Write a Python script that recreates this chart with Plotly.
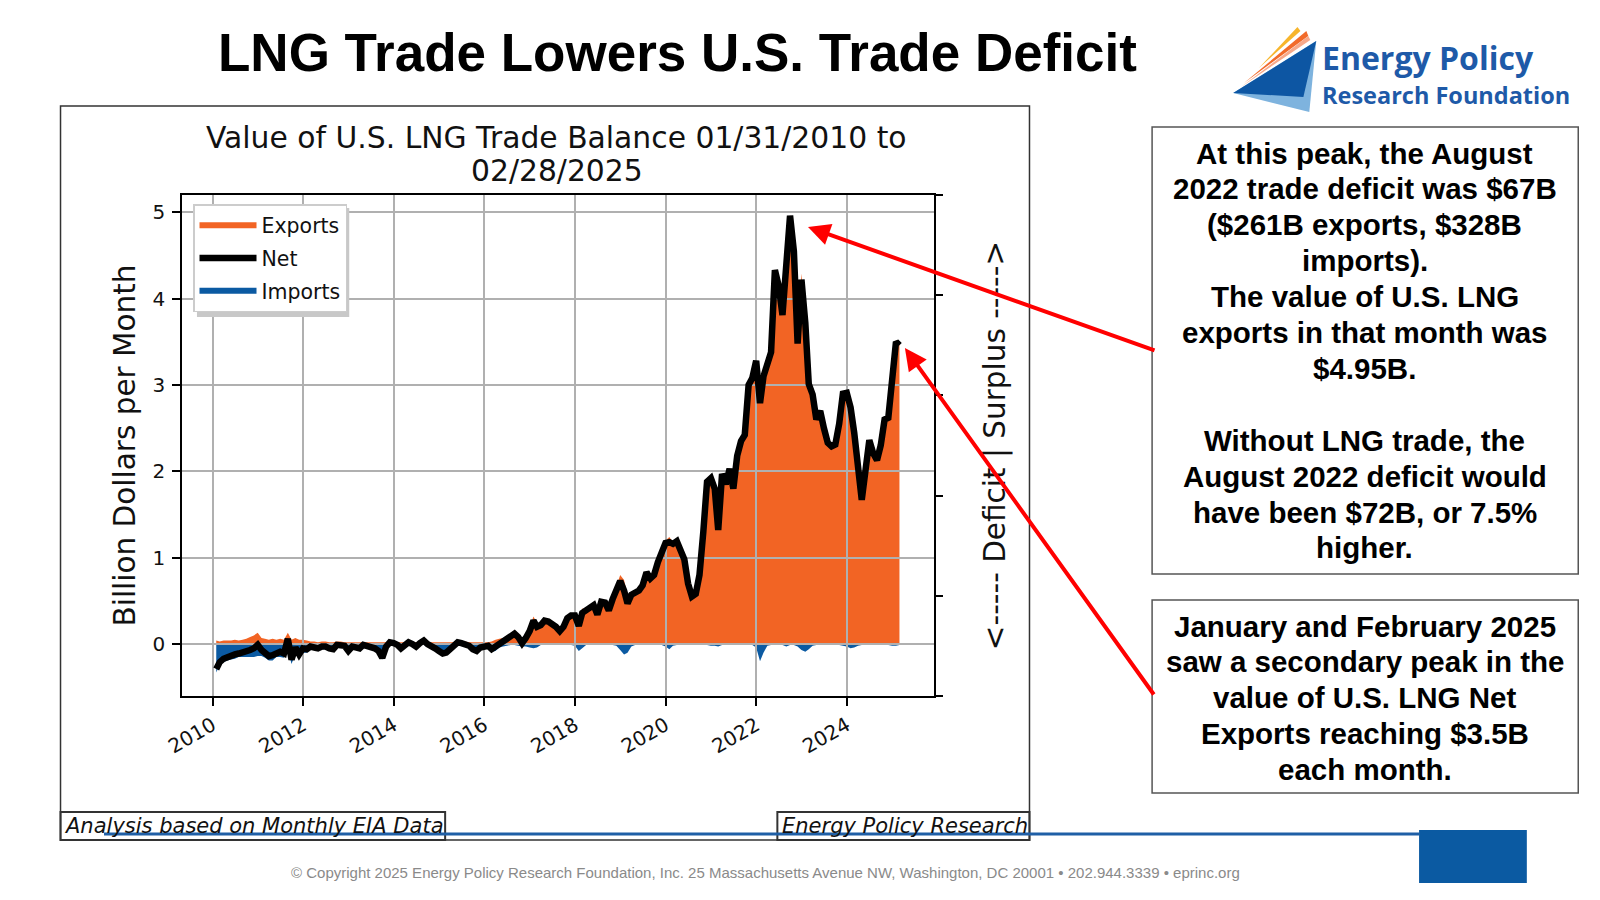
import plotly.graph_objects as go
import pandas as pd

W, H = 1600, 900

# ---------------- data (billion $ per month) ----------------
EXPORTS = [
    # 2010
    0.04, 0.03, 0.04, 0.04, 0.04, 0.05, 0.04, 0.05, 0.06, 0.08, 0.10, 0.13,
    # 2011
    0.07, 0.06, 0.05, 0.06, 0.05, 0.06, 0.05, 0.13, 0.05, 0.07, 0.05, 0.05,
    # 2012
    0.04, 0.03, 0.03, 0.02, 0.03, 0.03, 0.02, 0.02, 0.03, 0.03, 0.02, 0.02,
    # 2013
    0.02, 0.02, 0.02, 0.02, 0.02, 0.02, 0.02, 0.02, 0.02, 0.02, 0.03, 0.02,
    # 2014
    0.02, 0.02, 0.02, 0.03, 0.02, 0.02, 0.02, 0.05, 0.02, 0.02, 0.02, 0.02,
    # 2015
    0.02, 0.02, 0.02, 0.02, 0.03, 0.03, 0.03, 0.02, 0.02, 0.02, 0.02, 0.02,
    # 2016
    0.02, 0.03, 0.05, 0.06, 0.07, 0.08, 0.10, 0.13, 0.10, 0.04, 0.10, 0.19,
    # 2017
    0.32, 0.24, 0.23, 0.28, 0.27, 0.25, 0.21, 0.16, 0.21, 0.31, 0.34, 0.35,
    # 2018
    0.29, 0.41, 0.40, 0.43, 0.46, 0.35, 0.50, 0.49, 0.40, 0.53, 0.67, 0.80,
    # 2019
    0.74, 0.57, 0.60, 0.61, 0.63, 0.69, 0.84, 0.77, 0.81, 0.96, 1.09, 1.20,
    # 2020
    1.24, 1.18, 1.20, 1.09, 0.99, 0.71, 0.56, 0.59, 0.81, 1.31, 1.89, 1.94,
    # 2021
    1.82, 1.35, 1.98, 1.86, 2.04, 1.81, 2.19, 2.36, 2.43, 3.01, 3.09, 3.32,
    # 2022
    2.99, 3.20, 3.29, 3.39, 4.34, 4.16, 3.82, 4.44, 4.97, 4.56, 3.51, 4.29,
    # 2023
    3.81, 3.07, 2.91, 2.61, 2.71, 2.51, 2.34, 2.30, 2.32, 2.56, 2.92, 2.94,
    # 2024
    2.79, 2.49, 2.12, 1.68, 2.03, 2.37, 2.22, 2.14, 2.31, 2.61, 2.63, 3.16,
    # 2025
    3.52, 3.47,
]

IMPORTS = [
    # 2010
    0.33, 0.24, 0.21, 0.19, 0.18, 0.17, 0.15, 0.15, 0.15, 0.15, 0.15, 0.14,
    # 2011
    0.14, 0.16, 0.19, 0.19, 0.15, 0.15, 0.16, 0.07, 0.23, 0.11, 0.17, 0.10,
    # 2012
    0.10, 0.06, 0.07, 0.07, 0.06, 0.06, 0.07, 0.08, 0.04, 0.04, 0.04, 0.10,
    # 2013
    0.05, 0.06, 0.07, 0.03, 0.04, 0.05, 0.07, 0.10, 0.18, 0.05, 0.01, 0.01,
    # 2014
    0.03, 0.07, 0.03, 0.01, 0.02, 0.05, 0.01, 0.01, 0.02, 0.04, 0.07, 0.10,
    # 2015
    0.13, 0.12, 0.08, 0.03, 0.01, 0.02, 0.03, 0.04, 0.08, 0.10, 0.06, 0.04,
    # 2016
    0.04, 0.09, 0.08, 0.04, 0.03, 0.02, 0.01, 0.01, 0.02, 0.03, 0.03, 0.04,
    # 2017
    0.05, 0.04, 0.01, 0.01, 0.01, 0.01, 0.01, 0.01, 0.01, 0.01, 0.01, 0.02,
    # 2018
    0.08, 0.05, 0.01, 0.01, 0.01, 0.01, 0.01, 0.01, 0.01, 0.01, 0.02, 0.07,
    # 2019
    0.12, 0.10, 0.03, 0.01, 0.01, 0.01, 0.01, 0.01, 0.01, 0.01, 0.01, 0.03,
    # 2020
    0.06, 0.02, 0.01, 0.01, 0.01, 0.01, 0.01, 0.01, 0.01, 0.01, 0.01, 0.02,
    # 2021
    0.02, 0.03, 0.01, 0.01, 0.01, 0.01, 0.01, 0.01, 0.01, 0.01, 0.01, 0.04,
    # 2022
    0.20, 0.10, 0.02, 0.01, 0.01, 0.01, 0.01, 0.03, 0.01, 0.01, 0.03, 0.07,
    # 2023
    0.09, 0.06, 0.02, 0.01, 0.01, 0.01, 0.01, 0.01, 0.01, 0.01, 0.02, 0.03,
    # 2024
    0.05, 0.04, 0.02, 0.01, 0.01, 0.01, 0.01, 0.01, 0.01, 0.01, 0.01, 0.02,
    # 2025
    0.02, 0.01,
]

NET = [round(e - i, 3) for e, i in zip(EXPORTS, IMPORTS)]

FIRST_MONTH_END = "2010-01-31"
MONTH_ENDS = [(pd.Timestamp(FIRST_MONTH_END) + pd.offsets.MonthEnd(k)).strftime("%Y-%m-%d")
              for k in range(len(EXPORTS))]

TICK_YEARS = [2010, 2012, 2014, 2016, 2018, 2020, 2022, 2024]
Y_TICKS = [0, 1, 2, 3, 4, 5]
RIGHT_TICKS = [0, 0.2, 0.4, 0.6, 0.8, 1.0]

TITLE = "LNG Trade Lowers U.S. Trade Deficit"
CHART_TITLE = ["Value of U.S. LNG Trade Balance 01/31/2010 to", "02/28/2025"]
Y_LABEL = "Billion Dollars per Month"
RIGHT_LABEL = "&lt;----- Deficit | Surplus -----&gt;"
NOTE_LEFT = "Analysis based on Monthly EIA Data"
NOTE_RIGHT = "Energy Policy Research"
BOX1 = ["At this peak, the August", "2022 trade deficit was $67B", "($261B exports, $328B",
        "imports).", "The value of U.S. LNG", "exports in that month was", "$4.95B.", "",
        "Without LNG trade, the", "August 2022 deficit would", "have been $72B, or 7.5%", "higher."]
BOX2 = ["January and February 2025", "saw a secondary peak in the", "value of U.S. LNG Net",
        "Exports reaching $3.5B", "each month."]
FOOTER = ("© Copyright 2025 Energy Policy Research Foundation, Inc. 25 Massachusetts Avenue NW, "
          "Washington, DC 20001 • 202.944.3339 • eprinc.org")

ORANGE = "#F26424"
BLUE = "#0B5AA2"
MPL_FONT = "DejaVu Sans"
SLIDE_FONT = "Liberation Sans, Arial, sans-serif"


def px(x):
    return x / W


def py(y):
    return 1 - y / H


# plot area (pixels)
PL, PR, PT, PB = 166, 926, 195, 696
XDOM = [px(PL), px(PR)]
YDOM = [py(PB), py(PT)]
XR = ["2009-05-01", "2025-11-30"]
YR = [-0.602, 5.20]

fig = go.Figure()
fig.add_trace(go.Scatter(x=MONTH_ENDS, y=EXPORTS, name="Exports", mode="none", fill="tozeroy",
                         fillcolor=ORANGE, xaxis="x", yaxis="y", legendrank=1, legendgroup="e",
                         hoverinfo="skip"))
fig.add_trace(go.Scatter(x=MONTH_ENDS, y=[-v for v in IMPORTS], name="Imports", mode="none",
                         fill="tozeroy", fillcolor=BLUE, xaxis="x", yaxis="y", legendrank=3,
                         legendgroup="i", hoverinfo="skip"))
fig.add_trace(go.Scatter(x=MONTH_ENDS, y=NET, name="Net", mode="lines",
                         line=dict(color="black", width=6.5), xaxis="x2", yaxis="y2",
                         legendrank=2, legendgroup="n", hoverinfo="skip"))
fig.add_trace(go.Scatter(x=[], y=[], xaxis="x2", yaxis="y3", showlegend=False, hoverinfo="skip"))

tickfont = dict(family=MPL_FONT, size=20, color="#111111")
labelfont = dict(family=MPL_FONT, size=29.5, color="#111111")

layout = dict(
    width=W, height=H, margin=dict(l=0, r=0, t=0, b=0),
    paper_bgcolor="white", plot_bgcolor="rgba(0,0,0,0)",
    showlegend=True,
    legend=dict(x=px(177), y=py(204), xanchor="left", yanchor="top", bgcolor="white",
                bordercolor="#cccccc", borderwidth=1.5, tracegroupgap=3, itemwidth=57,
                font=dict(family=MPL_FONT, size=20.5, color="#111111")),
    xaxis=dict(domain=XDOM, range=XR, type="date", visible=False, anchor="y", fixedrange=True),
    yaxis=dict(domain=YDOM, range=YR, visible=False, anchor="x", fixedrange=True),
    xaxis2=dict(domain=XDOM, range=XR, type="date", anchor="y2",
                tickvals=[f"{y}-01-01" for y in TICK_YEARS], ticktext=[str(y) for y in TICK_YEARS],
                tickangle=-30, ticks="outside", ticklen=8, tickwidth=1.5, tickcolor="black",
                showline=True, linecolor="black", linewidth=2, mirror=True,
                showgrid=True, gridcolor="#b0b0b0", gridwidth=1.5, zeroline=False,
                tickfont=tickfont),
    yaxis2=dict(domain=YDOM, range=YR, anchor="x2", tickvals=Y_TICKS,
                ticks="outside", ticklen=8, tickwidth=1.5, tickcolor="black",
                showline=True, linecolor="black", linewidth=2, mirror=True,
                showgrid=True, gridcolor="#b0b0b0", gridwidth=1.5, zeroline=False,
                tickfont=tickfont, ticklabelstandoff=3,
                title=dict(text=Y_LABEL, font=labelfont, standoff=8)),
    yaxis3=dict(overlaying="y2", anchor="x2", side="right", range=[0, 1], tickvals=RIGHT_TICKS,
                ticks="outside", ticklen=8, tickwidth=1.5, tickcolor="black",
                showticklabels=False, showgrid=False, zeroline=False, showline=False,
                title=dict(text=RIGHT_LABEL, font=labelfont, standoff=42)),
)

ann = []


def text(x, y, t, size, family, color="black", xanchor="center"):
    ann.append(dict(x=px(x), y=py(y), xref="paper", yref="paper", text=t, showarrow=False,
                    font=dict(family=family, size=size, color=color),
                    xanchor=xanchor, yanchor="middle"))


text(667, 53, f"<b>{TITLE}</b>", 53, SLIDE_FONT)
text(545, 137, CHART_TITLE[0], 29.8, MPL_FONT, "#111111")
text(545, 170, CHART_TITLE[1], 29.8, MPL_FONT, "#111111")
text(45, 826, f"<i>{NOTE_LEFT}</i>", 21, MPL_FONT, "#111111", "left")
text(771, 826, f"<i>{NOTE_RIGHT}</i>", 21, MPL_FONT, "#111111", "left")
for k, line in enumerate(BOX1):
    if line:
        text(1362, 153 + 35.9 * k, f"<b>{line}</b>", 29.5, SLIDE_FONT)
for k, line in enumerate(BOX2):
    text(1362, 626 + 35.9 * k, f"<b>{line}</b>", 29.5, SLIDE_FONT)
text(756, 872, FOOTER, 15, SLIDE_FONT, "#8a8a8a")
text(1317, 57, "<b>Energy Policy</b>", 32, "Open Sans", "#1E5AA8", "left")
text(1317, 95, "<b>Research Foundation</b>", 23.5, "Open Sans", "#1E5AA8", "left")

# arrows (tip -> tail in pixels)
for (tx, ty), (sx, sy) in [((799, 227), (1147, 351)), ((897, 348), (1147, 696))]:
    ann.append(dict(x=px(tx), y=py(ty), xref="paper", yref="paper", ax=sx - tx, ay=sy - ty,
                    axref="pixel", ayref="pixel", text="", showarrow=True, arrowhead=2,
                    arrowsize=1.1, arrowwidth=4, arrowcolor="#ff0000"))

shapes = []


def rect(x0, y0, x1, y1, line="#333333", lw=1.5, fill=None):
    d = dict(type="rect", xref="paper", yref="paper", x0=px(x0), x1=px(x1), y0=py(y1), y1=py(y0),
             line=dict(color=line, width=lw), layer="above")
    if fill:
        d["fillcolor"] = fill
    shapes.append(d)


def poly(points, color):
    path = "M" + "L".join(f"{px(x):.5f},{py(y):.5f}" for x, y in points) + "Z"
    shapes.append(dict(type="path", xref="paper", yref="paper", path=path, fillcolor=color,
                       line=dict(width=0), layer="above"))


rect(43, 106, 1023, 840, "#333333", 1.5)
rect(43, 812, 432, 840, "#333333", 2, "rgba(255,255,255,0)")
rect(768, 812, 1023, 840, "#333333", 2, "rgba(255,255,255,0)")
shapes.append(dict(type="line", xref="paper", yref="paper", x0=px(87), x1=px(1417), y0=py(834),
                   y1=py(834), line=dict(color="#1F5FA6", width=3), layer="above"))
rect(1417, 830, 1526, 883, BLUE, 0, BLUE)
rect(1147, 127, 1578, 574, "#555555", 1.5)
rect(1147, 600, 1578, 793, "#555555", 1.5)
# legend drop shadow
rect(181, 208, 335, 317, "rgba(0,0,0,0)", 0, "#c8c8c8")

# logo
poly([(1229, 93), (1306, 112), (1313, 41)], "#7EB3DE")
poly([(1229, 93), (1313, 41), (1300, 97)], "#0D56A3")
poly([(1255, 68), (1294, 27), (1297, 31)], "#F7B52C")
poly([(1240, 83), (1303, 31), (1305, 36)], "#F26B2A")
poly([(1237, 87), (1305, 36), (1307, 40)], "#F7A98A")

layout["annotations"] = ann
layout["shapes"] = shapes
fig.update_layout(**layout)

fig.write_html("out.html", config={"displayModeBar": False},
               post_script="document.body.style.margin='0px';document.body.style.overflow='hidden';")
